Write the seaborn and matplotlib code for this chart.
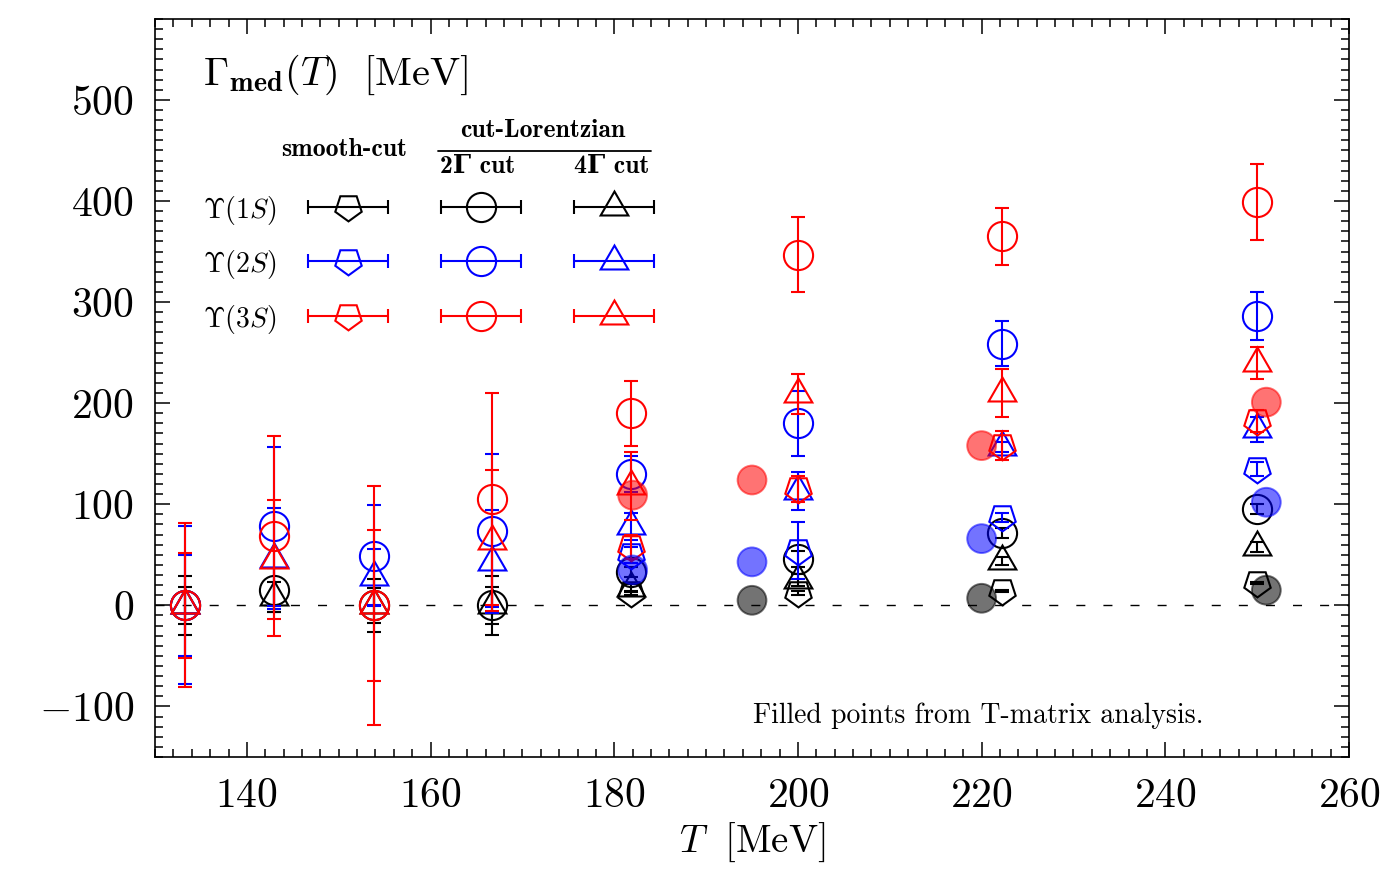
import numpy as np
import pandas as pd
import matplotlib
matplotlib.use("Agg")
import matplotlib.pyplot as plt
import seaborn as sns
from matplotlib.ticker import MultipleLocator, FuncFormatter

# ---------------- data ----------------
T_lat = [133.3, 142.9, 153.8, 166.7, 181.8, 200.0, 222.2, 250.0]

# cut-Lorentzian, 2Gamma cut (circles)
g1S_2G = [0, 15, 0, 0, 33, 46, 72, 95]
e1S_2G = [29, 22, 26, 29, 5, 8, 5, 5]
g2S_2G = [0, 78, 49, 74, 130, 180, 259, 286]
e2S_2G = [78, 79, 50, 76, 18, 32, 22, 24]
g3S_2G = [0, 69, 0, 105, 190, 347, 365, 399]
e3S_2G = [81, 99, 118, 105, 32, 37, 28, 38]

# cut-Lorentzian, 4Gamma cut (triangles)
g1S_4G = [0, 8, 0, 0, 17, 25, 44, 58]
e1S_4G = [18, 15, 17, 18, 4, 6, 4, 5]
g2S_4G = [0, 46, 28, 43, 78, 113, 157, 174]
e2S_4G = [50, 50, 28, 51, 13, 19, 5, 12]
g3S_4G = [0, 45, 0, 64, 118, 209, 210, 240]
e3S_4G = [52, 59, 75, 70, 34, 20, 24, 16]

# smooth-cut (pentagons)
T_sc = [181.8, 200.0, 222.2, 250.0]
g1S_sc = [12, 12, 14, 22]
e1S_sc = [2, 2, 1, 1]
g2S_sc = [50, 54, 87, 135]
e2S_sc = [8, 28, 4.5, 7]
g3S_sc = [58, 115, 158, 182]
e3S_sc = [12, 13, 14, 11]

# T-matrix (filled points)
T_tm1 = [195, 220, 251]
tm1S = [5, 7, 15]
T_tm23 = [182, 195, 220, 251]
tm2S = [35, 43, 66, 102]
tm3S = [109, 124, 158, 201]

states = [r"$\Upsilon(1S)$", r"$\Upsilon(2S)$", r"$\Upsilon(3S)$"]
colors = ["#000000", "#0000ff", "#ff0000"]

# ---------------- style ----------------
sns.set_theme(style="ticks")
plt.rcParams.update({
    "font.family": ["cmr10", "DejaVu Serif"],
    "mathtext.fontset": "cm",
    "axes.unicode_minus": False,
    "axes.linewidth": 1.2,
    "axes.edgecolor": "black",
    "axes.labelcolor": "black",
    "text.color": "black",
    "xtick.color": "black",
    "ytick.color": "black",
})

fig = plt.figure(figsize=(13.88, 8.73), dpi=100)
ax = fig.add_axes([0.1117, 0.1329, 0.8602, 0.8453])

MK = {"sc": (5, 0, 180), "2G": "o", "4G": (3, 0, 0)}
MS = {"sc": 20, "2G": 21, "4G": 23}
LW = 1.5
CAP = 4.7

ax.axhline(0, color="black", lw=1.0, dashes=(6.5, 13), zorder=0)

series = {
    0: {"sc": (g1S_sc, e1S_sc), "2G": (g1S_2G, e1S_2G), "4G": (g1S_4G, e1S_4G)},
    1: {"sc": (g2S_sc, e2S_sc), "2G": (g2S_2G, e2S_2G), "4G": (g2S_4G, e2S_4G)},
    2: {"sc": (g3S_sc, e3S_sc), "2G": (g3S_2G, e3S_2G), "4G": (g3S_4G, e3S_4G)},
}
z = 2
for i in range(3):
    for key in ("sc", "2G", "4G"):
        vals, errs = series[i][key]
        Tx = T_sc if key == "sc" else T_lat
        ax.errorbar(Tx, vals, yerr=errs, marker=MK[key], ms=MS[key], mfc="none",
                    mec=colors[i], mew=LW, color=colors[i], ls="none",
                    elinewidth=LW, capsize=CAP, capthick=LW, zorder=z)
        z += 1

# filled T-matrix points via seaborn
df_tm = pd.concat([
    pd.DataFrame({"T": T_tm1, "G": tm1S, "state": "1S"}),
    pd.DataFrame({"T": T_tm23, "G": tm2S, "state": "2S"}),
    pd.DataFrame({"T": T_tm23, "G": tm3S, "state": "3S"}),
])
sns.scatterplot(data=df_tm, x="T", y="G", hue="state",
                palette={"1S": colors[0], "2S": colors[1], "3S": colors[2]},
                s=430, alpha=0.55, edgecolor="face", linewidth=1.4,
                legend=False, ax=ax, zorder=20)

# ---------------- axes ----------------
ax.set_xlim(130, 260)
ax.set_ylim(-150, 580)
ax.xaxis.set_major_locator(MultipleLocator(20))
ax.xaxis.set_minor_locator(MultipleLocator(2))
ax.yaxis.set_major_locator(MultipleLocator(100))
ax.yaxis.set_minor_locator(MultipleLocator(10))
fmt = FuncFormatter(lambda v, p: f"${v:.0f}$")
ax.xaxis.set_major_formatter(fmt)
ax.yaxis.set_major_formatter(fmt)
ax.tick_params(which="both", direction="in", top=True, right=True, labelsize=30, pad=15)
ax.tick_params(which="major", length=11, width=1.1)
ax.tick_params(which="minor", length=5.8, width=1.1)
ax.set_xlabel(r"$T\ \ [\mathrm{MeV}]$", fontsize=28, labelpad=4)
ax.set_ylabel("")

# ---------------- legend table ----------------
tr = ax.transAxes
BOLD = dict(family=["cmb10", "DejaVu Serif"], weight="bold", fontsize=18.5)
ax.text(0.040, 0.9106, r"$\Gamma_{\mathbf{med}}(T)\ \ [\mathrm{MeV}]$", transform=tr,
        fontsize=29, ha="left", va="baseline")
ax.text(0.1583, 0.8144, "smooth-cut", transform=tr, ha="center", va="baseline", **BOLD)
ax.text(0.325, 0.8405, "cut-Lorentzian", transform=tr, ha="center", va="baseline", **BOLD)
ax.plot([0.237, 0.4152], [0.8211, 0.8211], color="black", lw=1.3, transform=tr)
ax.text(0.2705, 0.791, "2\u0393 cut", transform=tr, ha="center", va="baseline", **BOLD)
ax.text(0.3823, 0.791, "4\u0393 cut", transform=tr, ha="center", va="baseline", **BOLD)

row_y = [0.7457, 0.6725, 0.598]
lab_y = [0.7304, 0.657, 0.5827]
col_x = {"sc": 0.1616, "2G": 0.273, "4G": 0.3848}
hw = 0.0335
for i in range(3):
    ax.text(0.0402, lab_y[i], states[i], transform=tr, fontsize=20,
            ha="left", va="baseline")
    for key in ("sc", "2G", "4G"):
        ax.errorbar([col_x[key]], [row_y[i]], xerr=[[hw], [hw]], transform=tr,
                    marker=MK[key], ms=MS[key], mfc="none", mec=colors[i], mew=LW,
                    color=colors[i], ls="none", elinewidth=LW, capsize=CAP,
                    capthick=LW, zorder=30)

ax.text(0.6897, 0.046, "Filled points from T-matrix analysis.", family="cmr10",
        fontsize=20, transform=tr, ha="center", va="baseline")

fig.savefig("out.png", dpi=100)
